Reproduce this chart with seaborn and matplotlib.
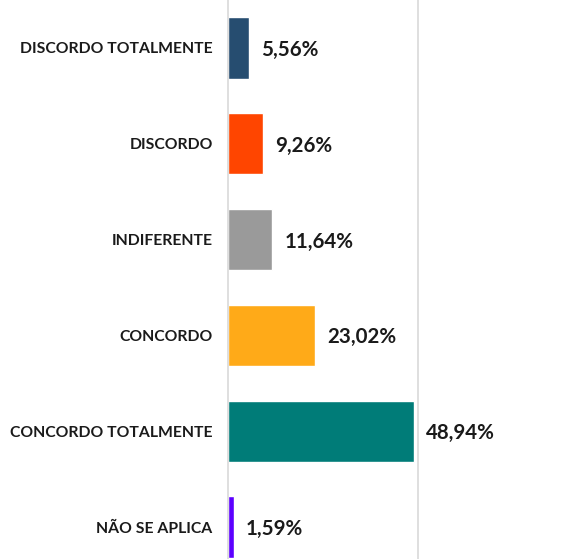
import matplotlib
matplotlib.use("Agg")
import matplotlib.pyplot as plt
import seaborn as sns
import pandas as pd

categories = ["DISCORDO TOTALMENTE", "DISCORDO", "INDIFERENTE", "CONCORDO",
              "CONCORDO TOTALMENTE", "NÃO SE APLICA"]
values = [5.56, 9.26, 11.64, 23.02, 48.94, 1.59]
value_labels = ["5,56%", "9,26%", "11,64%", "23,02%", "48,94%", "1,59%"]
colors = ["#264D70", "#FF4500", "#9A9A9A", "#FFAA18", "#007C78", "#5C00FF"]

df = pd.DataFrame({"cat": categories, "val": values})

sns.set_style("white")
plt.rcParams["font.family"] = ["Lato", "DejaVu Sans"]

W, H = 581, 559
fig = plt.figure(figsize=(W / 100, H / 100), dpi=100)
ax = fig.add_axes([228 / W, 0, (W - 228) / W, 1])

sns.barplot(data=df, x="val", y="cat", hue="cat", palette=colors, order=categories,
            hue_order=categories, width=0.64, legend=False, ax=ax, saturation=1)

ax.set_xlim(0, (W - 228) / 3.8)
ax.set_ylim(5.334, -0.501)
ax.axvline(50, color="#D9D9D9", lw=1.2, zorder=0)
for s in ["top", "right", "bottom"]:
    ax.spines[s].set_visible(False)
ax.spines["left"].set_color("#D9D9D9")
ax.spines["left"].set_linewidth(1.2)
ax.set_xticks([])
ax.set_xlabel("")
ax.set_ylabel("")
ax.tick_params(axis="y", length=0, pad=11)
for lab in ax.get_yticklabels():
    lab.set_fontweight("bold")
    lab.set_fontsize(11.3)
    lab.set_color("#1A1A1A")

for i, (v, t) in enumerate(zip(values, value_labels)):
    ax.annotate(t, (v, i), xytext=(12, -2), textcoords="offset pixels",
                va="center", ha="left", fontsize=14.8, fontweight="bold", color="#1A1A1A")

fig.savefig("out.png", dpi=100)
